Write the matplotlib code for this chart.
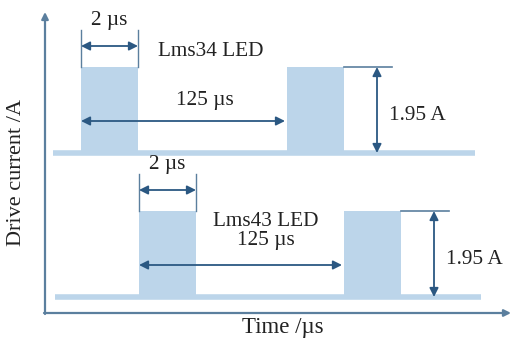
import matplotlib

matplotlib.use("Agg")

import matplotlib.pyplot as plt

plt.rcParams["font.family"] = ["Liberation Serif", "DejaVu Serif"]

# Schematic values, in picture pixels (y grows downward)
trace_names = ["Lms34 LED", "Lms43 LED"]
baseline_y = [153, 297]
pulse_top_y = [67, 211]
pulse_starts = [[81, 287], [139, 344]]
pulse_width = 57
baseline_span = [(53, 475), (55, 481)]
width_label = "2 µs"
period_label = "125 µs"
amp_label = "1.95 A"

FILL = "#bcd5ea"
DARK = "#2b5882"
AXIS = "#5b7f9e"
TEXT = "#222222"
FS = 15.3

fig = plt.figure(figsize=(5.12, 3.39), dpi=100)
ax = fig.add_axes([0, 0, 1, 1])
ax.set_xlim(0, 512)
ax.set_ylim(339, 0)
ax.axis("off")


def arrow(x0, y0, x1, y1, style="<|-|>", color=DARK, lw=1.3, scale=13):
    ax.annotate(
        "", xy=(x1, y1), xytext=(x0, y0),
        arrowprops=dict(arrowstyle=style, color=color, lw=lw,
                        mutation_scale=scale, shrinkA=0, shrinkB=0)
    )


# axes
arrow(45, 314, 45, 12, style="-|>", color=AXIS, lw=1.6, scale=10)
arrow(44, 313, 511, 313, style="-|>", color=AXIS, lw=1.6, scale=10)

for i in range(2):
    base = baseline_y[i]
    top = pulse_top_y[i]
    x0, x1 = baseline_span[i]
    ax.plot([x0, x1], [base, base], color=FILL, lw=4, solid_capstyle="butt")
    ax.bar(pulse_starts[i], top - base, width=pulse_width, bottom=base,
           align="edge", color=FILL, linewidth=0)

    first, second = pulse_starts[i]
    # pulse width marker
    ax.plot([first, first], [top - 37, top], color=AXIS, lw=1)
    ax.plot([first + pulse_width, first + pulse_width], [top - 37, top],
            color=AXIS, lw=1)
    arrow(first, top - 21, first + pulse_width, top - 21)
    ax.text(first + pulse_width / 2, top - 46, width_label, ha="center",
            va="center", fontsize=FS, color=TEXT)

    # period marker
    arrow(first, top + 54, second - 2, top + 54)

    # amplitude marker
    xr = second + pulse_width
    ax.plot([xr, xr + 48], [top, top], color=AXIS, lw=1.2)
    arrow(xr + 33, top, xr + 33, base)
    ax.text(xr + 45, (top + base) / 2 + 5, amp_label, ha="left",
            va="center", fontsize=FS, color=TEXT)

ax.text(158, 51, trace_names[0], ha="left", va="center", fontsize=FS,
        color=TEXT)
ax.text(205, 100, period_label, ha="center", va="center", fontsize=FS,
        color=TEXT)
ax.text(266, 221, trace_names[1], ha="center", va="center", fontsize=FS,
        color=TEXT)
ax.text(266, 240, period_label, ha="center", va="center", fontsize=FS,
        color=TEXT)

ax.text(283, 328, "Time /µs", ha="center", va="center", fontsize=16.5,
        color=TEXT)
ax.text(17, 172, "Drive current /A", ha="center", va="center", fontsize=16,
        rotation=90, color=TEXT)

fig.savefig("out.png", dpi=100)
